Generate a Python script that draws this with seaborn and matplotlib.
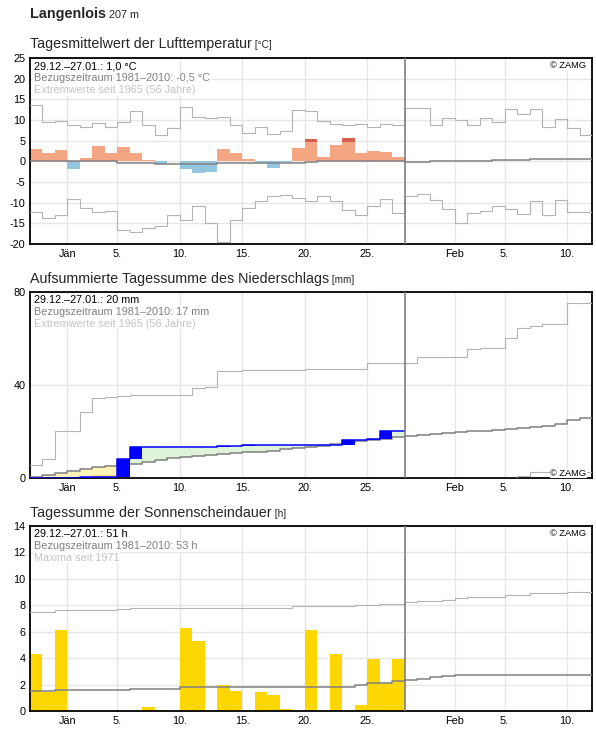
import numpy as np
import matplotlib
matplotlib.use("Agg")
import matplotlib.pyplot as plt
import seaborn as sns

# days counted from 1 Jan (0 = 1 Jan, -3 = 29 Dec), plot runs 29.12. - 11.02.
first_day = -3
obs_end = 27  # start of 28 Jan, end of observed period

tick_pos = [0, 4, 9, 14, 19, 24, 31, 35, 40]
tick_labels = ["Jän", "5.", "10.", "15.", "20.", "25.", "Feb", "5.", "10."]

# --- temperature [°C] ---
temp_obs = [3.0, 2.1, 2.8, -1.9, 0.9, 3.8, 2.1, 3.5, 2.1, 0.4,
            -0.6, 0.2, -1.9, -2.9, -2.7, 3.1, 1.9, 0.6, -0.3, -1.5,
            -0.2, 3.3, 5.5, 1.1, 4.0, 5.7, 1.9, 2.6, 2.3, 1.1]
temp_hot = [np.nan] * 22 + [4.6, np.nan, np.nan, 4.6] + [np.nan] * 4
temp_norm = [0.0] * 7 + [-0.3] * 3 + [-0.6] * 5 + [-0.5] * 2 + [-0.3] * 5 + [-0.2] + [0.1] * 7 \
    + [-0.2] * 2 + [0.0] * 3 + [0.15] * 2 + [0.4] * 3 + [0.55] * 5
temp_max = [13.7, 9.5, 9.8, 8.9, 8.3, 9.3, 8.3, 9.5, 12.2, 8.9,
            6.4, 8.1, 13.1, 10.7, 10.5, 10.7, 8.9, 6.9, 8.3, 6.6,
            7.3, 12.4, 12.2, 9.8, 9.1, 8.9, 9.1, 8.3, 9.1, 8.9,
            12.9, 12.9, 8.8, 10.5, 9.9, 8.8, 10.5, 9.6, 12.7, 11.5,
            12.7, 8.3, 10.2, 8.0, 6.4]
temp_min = [-12.3, -13.7, -13.0, -9.1, -11.3, -12.3, -12.0, -16.6, -17.1, -16.1,
            -15.6, -13.0, -14.2, -10.8, -14.9, -19.5, -14.2, -11.3, -9.6, -8.4,
            -8.1, -8.9, -9.6, -8.4, -9.6, -11.8, -13.0, -10.8, -9.1, -12.5,
            -8.3, -7.9, -9.4, -11.5, -14.9, -12.5, -12.0, -10.7, -11.5, -12.7,
            -9.7, -12.9, -9.4, -12.3, -12.3]

# --- accumulated precipitation [mm] ---
prec_cum = [0, 0, 0, 0, 0.4, 0.4, 0.4, 8.1, 13.2, 13.2,
            13.2, 13.2, 13.2, 13.2, 13.2, 13.6, 13.6, 14.0, 14.0, 14.0,
            14.0, 14.0, 14.0, 14.0, 14.0, 16.2, 16.2, 16.8, 20.1, 20.1]
prec_extra = [0, 0, 0, 0, 0, 1.0, 1.0] + [0] * 23
prec_norm = [0.3, 1.3, 2.1, 2.8, 3.8, 4.7, 5.2, 5.9, 6.2, 6.8,
             7.7, 8.5, 8.9, 9.4, 9.8, 10.1, 10.6, 11.1, 11.2, 11.6,
             12.3, 12.8, 13.2, 13.9, 14.6, 15.6, 15.8, 16.2, 16.7, 17.4,
             18.2, 18.4, 18.9, 19.3, 19.6, 20.0, 20.3, 20.6, 20.9, 21.3,
             21.8, 22.4, 23.4, 24.8, 25.7]
prec_max = [5.5, 8.1, 20.0, 20.0, 28.5, 34.5, 34.9, 35.3, 35.7, 35.7,
            35.7, 35.7, 35.7, 38.7, 39.1, 46.0, 46.0, 46.4, 46.4, 46.4,
            46.4, 46.4, 46.8, 46.8, 46.8, 46.8, 46.8, 49.2, 49.5, 49.5,
            49.5, 51.8, 51.8, 51.8, 51.8, 55.6, 56.0, 56.0, 60.3, 64.3,
            65.1, 66.2, 66.2, 75.3, 75.3]
prec_min = [0.0] * 39 + [1.0] + [2.5] * 5

# --- sunshine duration [h] ---
sun_obs = [4.3, 1.4, 6.1, 0, 0, 0, 0, 0, 0, 0.3,
           0.1, 0, 6.3, 5.3, 0, 2.0, 1.5, 0, 1.4, 1.2,
           0.15, 0, 6.1, 0, 4.3, 0, 0.45, 3.9, 2.1, 3.9]
sun_norm = [1.5] * 2 + [1.55] * 6 + [1.65] * 4 + [1.8] * 12 + [1.85] * 2 + [1.95, 2.1, 2.15, 2.25] \
    + [2.35, 2.45, 2.6, 2.65] + [2.75] * 6 + [2.7] * 5
sun_max = [7.45] * 2 + [7.6] * 5 + [7.7] + [7.75] * 3 + [7.8] * 10 + [7.9] * 5 + [8.0] * 2 + [8.05] * 2 \
    + [8.2, 8.3, 8.3, 8.4, 8.5, 8.6, 8.65, 8.65, 8.8, 8.8, 8.9, 8.9, 8.9, 9.0, 9.0]

sns.set_style("white")
plt.rcParams["font.family"] = ["Liberation Sans", "DejaVu Sans"]
plt.rcParams["axes.unicode_minus"] = False

W, H = 596, 729
fig = plt.figure(figsize=(W / 100, H / 100), dpi=100)


def rect(top, bottom, left=30, right=592):
    return [left / W, 1 - bottom / H, (right - left) / W, (bottom - top) / H]


ax_t = fig.add_axes(rect(58, 244))
ax_p = fig.add_axes(rect(291.7, 478))
ax_s = fig.add_axes(rect(525.7, 711))

x_obs = np.arange(first_day, first_day + len(temp_obs))


def steps(ax, vals, color, lw=0.8, z=3):
    xs = np.arange(first_day, first_day + len(vals) + 1)
    ys = list(vals) + [vals[-1]]
    sns.lineplot(x=xs, y=ys, drawstyle="steps-post", color=color, lw=lw,
                 ax=ax, sort=False, estimator=None, zorder=z)


def style(ax, yticks, ylim):
    ax.set_xlim(-3, 42)
    ax.set_ylim(*ylim)
    ax.set_xticks(tick_pos)
    ax.set_xticklabels(tick_labels)
    ax.set_yticks(yticks)
    ax.grid(True, color="#e6e6e6", lw=1)
    ax.set_axisbelow(True)
    ax.tick_params(length=0, labelsize=7.8, pad=3.3, colors="black")
    for s in ax.spines.values():
        s.set_visible(True)
        s.set_color("black")
        s.set_linewidth(1.3)
    ax.axvline(obs_end, color="#808080", lw=1.2, zorder=6)
    ax.set_xlabel("")
    ax.set_ylabel("")


def info(ax, lines, colors):
    for i, (t, c) in enumerate(zip(lines, colors)):
        ax.annotate(t, xy=(0, 1), xycoords="axes fraction",
                    xytext=(4 * 0.72, -(11.6 + 11.7 * i) * 0.72), textcoords="offset points",
                    fontsize=7.8, color=c, va="baseline", ha="left", zorder=8,
                    bbox=dict(fc="white", ec="none", pad=0.4))


def zamg(ax, bottom=False):
    y = 0 if bottom else 1
    off = 2.3 if bottom else -10.5
    ax.annotate("© ZAMG", xy=(1, y), xycoords="axes fraction",
                xytext=(-5.5 * 0.72, off * 0.72), textcoords="offset points",
                fontsize=6.7, color="black", va="baseline", ha="right", zorder=8,
                bbox=dict(fc="white", ec="none", pad=0.4))


info_cols = ["black", "#808080", "#c4c4c4"]

# temperature
t = np.array(temp_obs)
ax_t.bar(x_obs, t, width=1, align="edge", lw=0, zorder=2,
         color=["#f4a582" if v >= 0 else "#92c5de" for v in t])
hot = np.array(temp_hot)
m = ~np.isnan(hot)
ax_t.bar(x_obs[m], t[m] - hot[m], bottom=hot[m], width=1, align="edge", lw=0,
         color="#d6604d", zorder=2)
steps(ax_t, temp_max, "#b4b4b4")
steps(ax_t, temp_min, "#b4b4b4")
steps(ax_t, temp_norm, "#808080", lw=1.1)
style(ax_t, range(-20, 26, 5), (-20, 25))
info(ax_t, ["29.12.–27.01.: 1,0 °C", "Bezugszeitraum 1981–2010: -0,5 °C",
            "Extremwerte seit 1965 (56 Jahre)"], info_cols)
zamg(ax_t)

# precipitation
cum = np.array(prec_cum)
norm_obs = np.array(prec_norm[:len(cum)])
ax_p.bar(x_obs, cum - norm_obs, bottom=norm_obs, width=1, align="edge", lw=0, zorder=2,
         color=["#fff4b8" if c < n else "#dff2da" for c, n in zip(cum, norm_obs)])
extra = np.array(prec_extra)
me = extra > 0
ax_p.bar(x_obs[me], extra[me], bottom=cum[me], width=1, align="edge", lw=0,
         color="#fdd47a", zorder=2)
steps(ax_p, prec_max, "#b4b4b4")
steps(ax_p, prec_min, "#b4b4b4")
steps(ax_p, prec_norm, "#808080", lw=1.1)
prev = np.concatenate([[0], cum[:-1]])
daily = cum - prev
md = daily > 0
ax_p.bar(x_obs[md], daily[md], bottom=prev[md], width=1, align="edge", lw=0,
         color="#0000ff", zorder=4)
steps(ax_p, prec_cum, "#0000ff", lw=1.1, z=4)
style(ax_p, [0, 40, 80], (0, 80))
info(ax_p, ["29.12.–27.01.: 20 mm", "Bezugszeitraum 1981–2010: 17 mm",
            "Extremwerte seit 1965 (56 Jahre)"], info_cols)
zamg(ax_p, bottom=True)

# sunshine
ax_s.bar(x_obs, sun_obs, width=1, align="edge", lw=0, color="#ffd700", zorder=2)
steps(ax_s, sun_max, "#b4b4b4")
steps(ax_s, sun_norm, "#808080", lw=1.1)
style(ax_s, range(0, 15, 2), (0, 14))
info(ax_s, ["29.12.–27.01.: 51 h", "Bezugszeitraum 1981–2010: 53 h",
            "Maxima seit 1971"], info_cols)
zamg(ax_s)

# titles
fig.canvas.draw()
r = fig.canvas.get_renderer()
main = fig.text(30 / W, 1 - 18.3 / H, "Langenlois", fontsize=10.4, fontweight="bold",
                va="baseline", ha="left")
bb = main.get_window_extent(r)
fig.text(bb.x1 / W, 1 - 18.3 / H, " 207 m", fontsize=7.8, va="baseline", ha="left")
titles = [("Tagesmittelwert der Lufttemperatur", " [°C]", 48.3),
          ("Aufsummierte Tagessumme des Niederschlags", " [mm]", 283),
          ("Tagessumme der Sonnenscheindauer", " [h]", 517)]
for name, unit, yb in titles:
    tt = fig.text(30 / W, 1 - yb / H, name, fontsize=10.3, va="baseline", ha="left")
    bb = tt.get_window_extent(r)
    fig.text(bb.x1 / W, 1 - yb / H, unit, fontsize=7.2, va="baseline", ha="left")

fig.savefig("out.png", dpi=100)
